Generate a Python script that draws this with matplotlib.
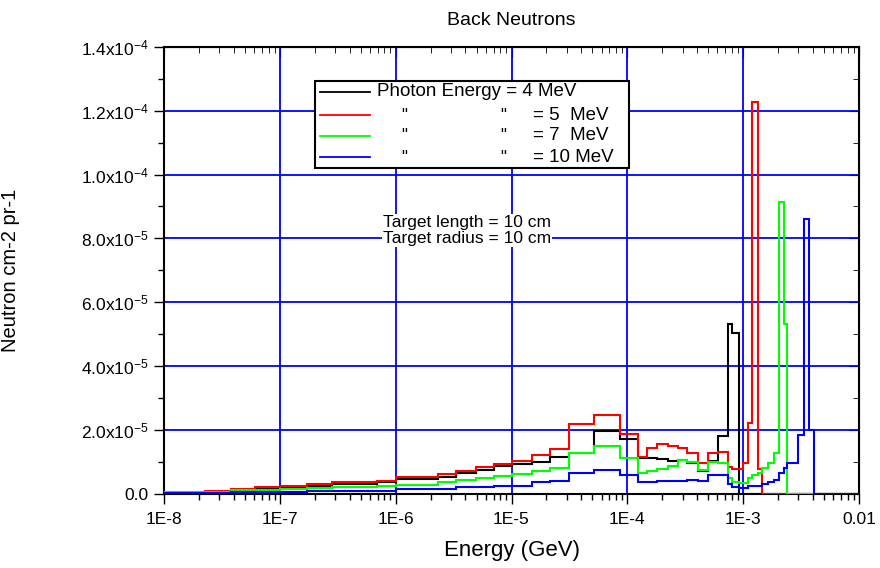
import numpy as np
import matplotlib
matplotlib.use("Agg")
import matplotlib.pyplot as plt
from matplotlib.ticker import NullFormatter, MultipleLocator, LogLocator
from matplotlib.patches import Rectangle
from matplotlib.lines import Line2D

plt.rcParams['font.family'] = ['Liberation Sans', 'DejaVu Sans']
plt.rcParams['mathtext.fontset'] = 'custom'
plt.rcParams['mathtext.rm'] = 'Liberation Sans'
plt.rcParams['mathtext.default'] = 'regular'

# ---------------- data ----------------
# common energy bin edges (GeV)
edges = [1.0e-8, 2.26e-8, 3.78e-8, 6.09e-8, 1.0e-7, 1.71e-7, 2.81e-7, 6.86e-7,
         1.0e-6, 2.30e-6, 3.29e-6, 4.9e-6, 7.13e-6, 1.0e-5, 1.49e-5, 2.17e-5,
         3.16e-5, 5.2e-5, 8.7e-5, 1.24e-4, 1.49e-4, 1.81e-4, 2.26e-4, 2.75e-4,
         3.29e-4, 4.09e-4, 4.99e-4, 6.09e-4, 7.42e-4, 8.04e-4, 9.24e-4, 1.0e-3,
         1.10e-3, 1.20e-3, 1.35e-3, 1.46e-3, 1.64e-3, 1.85e-3, 2.04e-3, 2.25e-3,
         2.39e-3, 2.70e-3, 2.98e-3, 3.36e-3, 3.70e-3, 4.09e-3, 1.0e-2]

# fluxes in units of 1e-5 neutron cm-2 pr-1
flux_4mev = [0.03, 0.06, 0.11, 0.15, 0.18, 0.235, 0.29, 0.35, 0.455, 0.53,
             0.63, 0.74, 0.86, 0.92, 1.0, 1.14, 1.26, 1.96, 1.70, 1.10,
             1.10, 1.08, 1.03, 1.05, 0.95, 0.70, 1.02, 1.79, 5.31, 5.03,
             0, 0, 0, 0, 0, 0, 0, 0, 0, 0, 0, 0, 0, 0, 0, 0]
flux_5mev = [0.025, 0.09, 0.14, 0.19, 0.245, 0.31, 0.35, 0.39, 0.51, 0.61,
             0.70, 0.82, 0.92, 1.03, 1.21, 1.40, 2.17, 2.45, 1.87, 1.155,
             1.44, 1.55, 1.50, 1.44, 1.28, 0.96, 1.26, 1.29, 0.84, 0.77,
             0.77, 0.95, 2.20, 12.26, 0.76, 0, 0, 0, 0, 0, 0, 0, 0, 0, 0, 0]
flux_7mev = [0.055, 0.06, 0.11, 0.125, 0.15, 0.17, 0.19, 0.22, 0.27, 0.37,
             0.42, 0.50, 0.56, 0.60, 0.70, 0.79, 1.26, 1.50, 1.10, 0.65,
             0.71, 0.76, 0.87, 1.05, 1.0, 0.74, 1.0, 0.97, 0.50, 0.37,
             0.34, 0.34, 0.48, 0.58, 0.65, 0.79, 0.97, 1.27, 9.14, 5.32,
             0, 0, 0, 0, 0, 0]
flux_10mev = [0.01, 0.01, 0.04, 0.04, 0.04, 0.09, 0.09, 0.09, 0.13, 0.13,
              0.19, 0.19, 0.245, 0.245, 0.35, 0.40, 0.65, 0.74, 0.58, 0.36,
              0.36, 0.38, 0.40, 0.40, 0.42, 0.39, 0.58, 0.58, 0.29, 0.21,
              0.18, 0.18, 0.235, 0.235, 0.235, 0.31, 0.37, 0.42, 0.63, 0.79,
              0.95, 0.95, 1.84, 8.61, 2.0, 0]

series_labels = ['Photon Energy = 4 MeV', '= 5  MeV', '= 7  MeV', '= 10 MeV']
series_colors = ['#000000', '#ff0000', '#00ff00', '#0000ff']
x_tick_values = [1e-8, 1e-7, 1e-6, 1e-5, 1e-4, 1e-3, 1e-2]
x_tick_labels = ['1E-8', '1E-7', '1E-6', '1E-5', '1E-4', '1E-3', '0.01']
y_tick_values = [0, 2e-5, 4e-5, 6e-5, 8e-5, 1.0e-4, 1.2e-4, 1.4e-4]
y_tick_labels = ['0.0', r'2.0x10$^{-5}$', r'4.0x10$^{-5}$', r'6.0x10$^{-5}$',
                 r'8.0x10$^{-5}$', r'1.0x10$^{-4}$', r'1.2x10$^{-4}$', r'1.4x10$^{-4}$']

# ---------------- figure ----------------
fig = plt.figure(figsize=(8.8, 5.68), dpi=100)
ax = fig.add_axes([164/880, (568-493.5)/568, 695/880, 446.5/568])

ax.set_xscale('log')
ax.set_xlim(1e-8, 1e-2)
ax.set_ylim(0, 1.4e-4)

ax.grid(True, which='major', color='#0000ff', linewidth=1.3)
ax.set_axisbelow(True)

all_flux = [flux_4mev, flux_5mev, flux_7mev, flux_10mev]
for vals, col in zip(all_flux, series_colors):
    ax.stairs(np.array(vals) * 1e-5, edges, baseline=0, color=col, linewidth=1.5, zorder=3)

ax.set_xticks(x_tick_values)
ax.set_xticklabels(x_tick_labels, fontsize=12.5)
ax.xaxis.set_minor_locator(LogLocator(base=10, subs=np.arange(2, 10)))
ax.xaxis.set_minor_formatter(NullFormatter())
ax.set_yticks(y_tick_values)
ax.set_yticklabels(y_tick_labels, fontsize=12.5)
ax.yaxis.set_minor_locator(MultipleLocator(1e-5))

ax.tick_params(axis='both', which='major', direction='out', length=7, width=1, colors='black', top=False, right=False)
ax.tick_params(axis='both', which='minor', direction='out', length=4, width=1, top=False, right=False)
ax.tick_params(axis='x', which='major', pad=6)
ax.tick_params(axis='y', which='major', pad=4)

# top axis inward ticks
axt = ax.secondary_xaxis('top')
axt.set_xticks(x_tick_values)
axt.set_xticklabels([])
axt.xaxis.set_minor_locator(LogLocator(base=10, subs=np.arange(2, 10)))
axt.xaxis.set_minor_formatter(NullFormatter())
axt.tick_params(which='major', direction='in', length=7)
axt.tick_params(which='minor', direction='in', length=4)
axr = ax.secondary_yaxis('right')
axr.set_yticks(y_tick_values)
axr.set_yticklabels([])
axr.yaxis.set_minor_locator(MultipleLocator(1e-5))
axr.tick_params(which='major', direction='in', length=7)
axr.tick_params(which='minor', direction='in', length=4)

for s in ax.spines.values():
    s.set_linewidth(1.5)

ax.set_title('Back Neutrons', fontsize=14, pad=16)
ax.set_xlabel('Energy (GeV)', fontsize=16, labelpad=10)
ax.set_ylabel('Neutron cm-2 pr-1', fontsize=14.5)
ax.yaxis.set_label_coords(-0.207, 0.5)

# annotation
ax.text(0.436, 0.589, 'Target length = 10 cm\nTarget radius = 10 cm', transform=ax.transAxes,
        ha='center', va='center', fontsize=12.5, linespacing=1.15,
        bbox=dict(facecolor='white', edgecolor='none', pad=0.5), zorder=4)

# legend box (Origin style)
lx0, lx1 = (315-164)/695, (629-164)/695
ly0, ly1 = (493.5-168)/446.5, (493.5-81)/446.5
ax.add_patch(Rectangle((lx0, ly0), lx1-lx0, ly1-ly0, transform=ax.transAxes,
                       facecolor='white', edgecolor='black', linewidth=1.5, zorder=5))
row_y = [92, 115, 136, 157]
for i, (lab, col) in enumerate(zip(series_labels, series_colors)):
    yy = (493.5 - row_y[i]) / 446.5
    ax.add_line(Line2D([(320-164)/695, (370-164)/695], [yy, yy], transform=ax.transAxes,
                       color=col, linewidth=1.3, zorder=6))
    if i == 0:
        ax.text((377-164)/695, yy, lab, transform=ax.transAxes, ha='left', va='center',
                fontsize=13.5, zorder=6)
    else:
        ax.text((404-164)/695, yy, '"', transform=ax.transAxes, ha='center', va='center',
                fontsize=12, zorder=6)
        ax.text((503-164)/695, yy, '"', transform=ax.transAxes, ha='center', va='center',
                fontsize=12, zorder=6)
        ax.text((533-164)/695, yy, lab, transform=ax.transAxes, ha='left', va='center',
                fontsize=13.5, zorder=6)

fig.savefig('out.png', dpi=100)
